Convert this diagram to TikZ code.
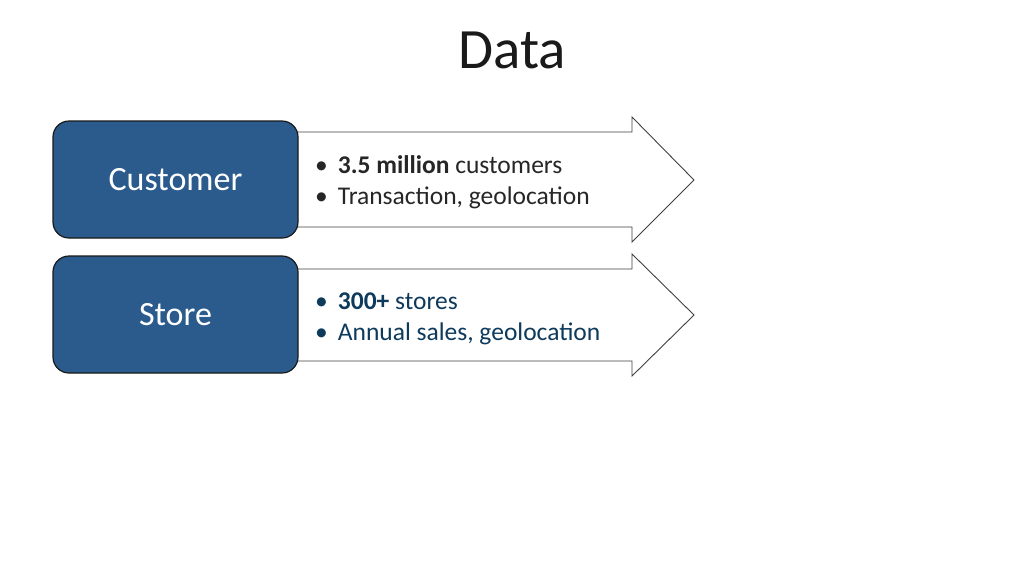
\documentclass[tikz,border=0pt]{standalone}
\usepackage{fontspec}
\setmainfont{Carlito}
\definecolor{boxblue}{HTML}{2A5B8C}
\definecolor{boxedge}{HTML}{1A1A1A}
\definecolor{arrowedge}{HTML}{404040}
\definecolor{titlecol}{HTML}{1A1A1A}
\definecolor{custtext}{HTML}{262626}
\definecolor{storetext}{HTML}{0E3A5C}
\begin{document}
\begin{tikzpicture}[x=1pt,y=-1pt,
  catbox/.style={draw=boxedge,line width=1.2pt,fill=boxblue,rounded corners=16pt,
    minimum width=245pt,minimum height=117pt,inner sep=0pt,text=white,
    font=\fontsize{34}{38}\selectfont},
  arrowshape/.style={draw=arrowedge,line width=0.9pt,fill=white,line join=miter},
  bullet/.style={anchor=base west,inner sep=0pt,font=\fontsize{25.5}{30}\selectfont}]
\useasboundingbox (0,0) rectangle (1024,576);
\fill[white] (0,0) rectangle (1024,576);
\node[anchor=base,inner sep=0pt,text=titlecol,font=\fontsize{57}{64}\selectfont] (title) at (512,68) {Data};
% arrows
\draw[arrowshape] (290,132) -- (632,132) -- (632,117) -- (694,180) -- (632,242) -- (632,227) -- (290,227) -- cycle;
\draw[arrowshape] (290,269) -- (632,269) -- (632,254) -- (694,315) -- (632,376) -- (632,361) -- (290,361) -- cycle;
% boxes
\node[catbox] (customer) at (175.5,179.5) {Customer};
\node[catbox] (store) at (175.5,314.5) {Store};
% bullets
\node[bullet,text=custtext] (c1) at (315,173) {\textbullet\hspace{10pt}\textbf{3.5 million} customers};
\node[bullet,text=custtext] (c2) at (315,204) {\textbullet\hspace{10pt}Transaction, geolocation};
\node[bullet,text=storetext] (s1) at (315,309) {\textbullet\hspace{10pt}\textbf{300+} stores};
\node[bullet,text=storetext] (s2) at (315,340) {\textbullet\hspace{10pt}Annual sales, geolocation};
\end{tikzpicture}
\end{document}
